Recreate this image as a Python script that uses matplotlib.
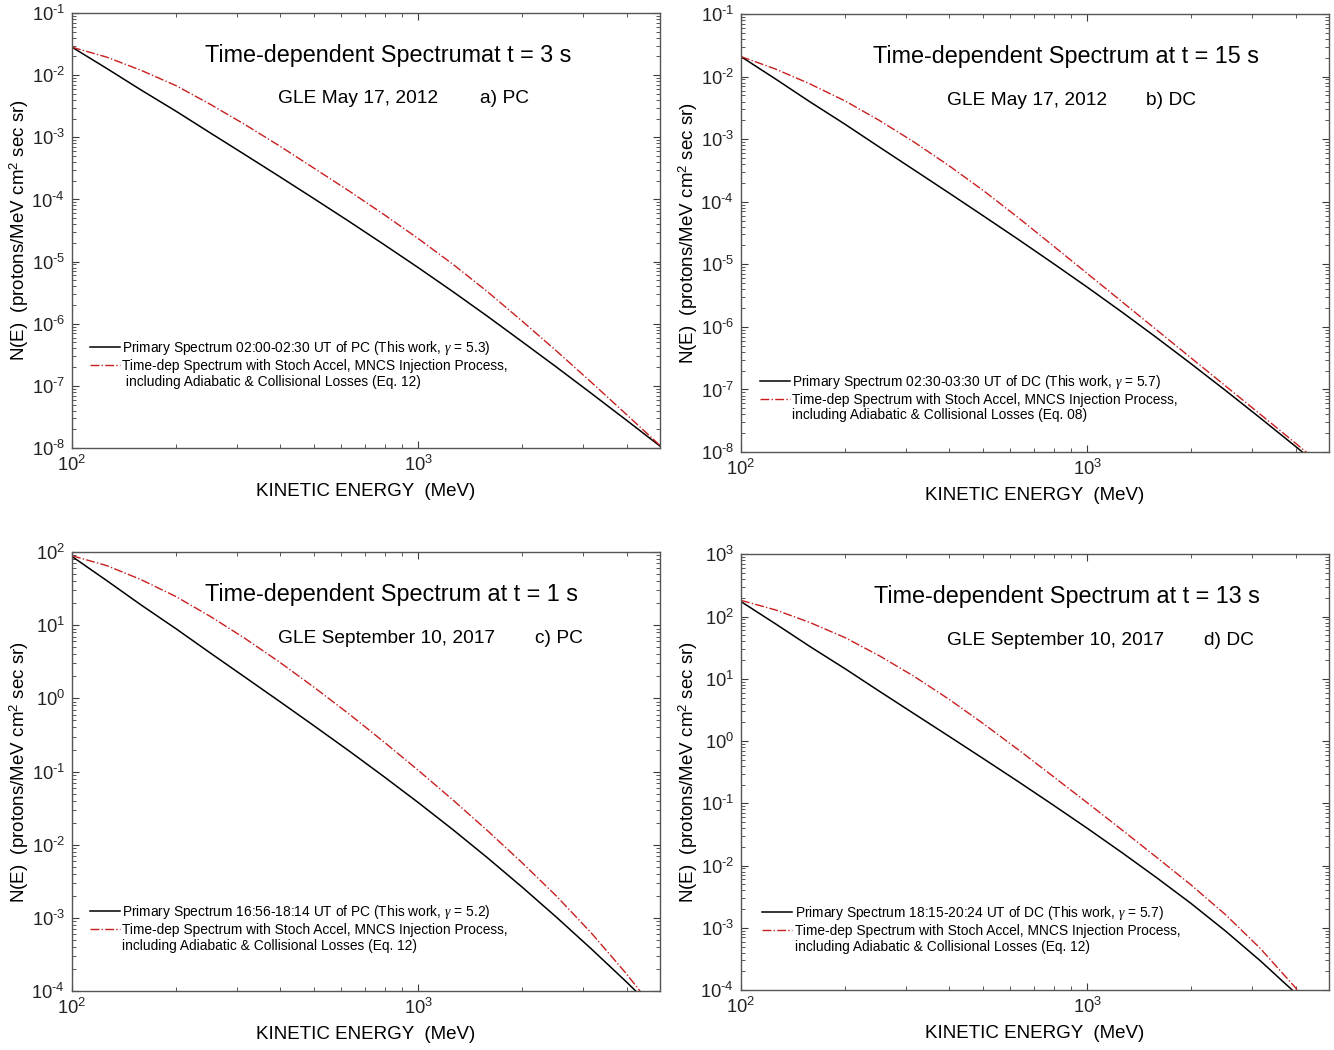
import numpy as np
import matplotlib
matplotlib.use("Agg")
import matplotlib.pyplot as plt
from matplotlib.lines import Line2D
from matplotlib.ticker import LogLocator, NullFormatter, FuncFormatter

plt.rcParams['font.family'] = ['Liberation Sans', 'DejaVu Sans']
plt.rcParams['mathtext.fontset'] = 'custom'
plt.rcParams['mathtext.rm'] = 'Liberation Sans'
plt.rcParams['mathtext.it'] = 'Liberation Serif:italic'
plt.rcParams['mathtext.bf'] = 'Liberation Sans:bold'

# kinetic energy grid (MeV) at which the curves were read
energy = [100, 126, 158, 200, 251, 316, 398, 501, 631, 794, 1000, 1259, 1585, 1995, 2512, 3162, 3981, 5012]

# log10 N(E)
black_a = [-1.55, -1.892, -2.236, -2.582, -2.930, -3.280, -3.633, -3.990, -4.352, -4.720,
           -5.096, -5.482, -5.879, -6.287, -6.699, -7.119, -7.544, -7.974]
red_a = [-1.55, -1.710, -1.920, -2.170, -2.470, -2.795, -3.140, -3.500, -3.862, -4.237,
         -4.629, -5.041, -5.483, -5.955, -6.440, -6.940, -7.450, -7.965]

black_b = [-1.68, -2.040, -2.401, -2.763, -3.126, -3.490, -3.856, -4.225, -4.598, -4.977,
           -5.364, -5.761, -6.169, -6.588, -7.017, -7.455, -7.901, -8.354]
red_b = [-1.68, -1.880, -2.115, -2.390, -2.700, -3.045, -3.420, -3.820, -4.250, -4.695,
         -5.145, -5.595, -6.045, -6.495, -6.945, -7.395, -7.850, -8.310]

black_c = [1.94, 1.610, 1.280, 0.950, 0.620, 0.290, -0.042, -0.377, -0.717, -1.065,
           -1.423, -1.793, -2.178, -2.578, -2.993, -3.423, -3.868, -4.328]
red_c = [1.95, 1.815, 1.625, 1.390, 1.120, 0.820, 0.495, 0.150, -0.212, -0.590,
         -0.982, -1.387, -1.807, -2.245, -2.705, -3.205, -3.755, -4.355]

black_d = [2.24, 1.880, 1.520, 1.160, 0.800, 0.440, 0.080, -0.282, -0.648, -1.020,
           -1.400, -1.790, -2.192, -2.608, -3.053, -3.528, -4.038, -4.578]
red_d = [2.26, 2.105, 1.905, 1.660, 1.370, 1.040, 0.675, 0.280, -0.135, -0.560,
         -0.990, -1.425, -1.865, -2.310, -2.790, -3.330, -3.950, -4.650]

titles = ['Time-dependent Spectrumat t = 3 s', 'Time-dependent Spectrum at t = 15 s',
          'Time-dependent Spectrum at t = 1 s', 'Time-dependent Spectrum at t = 13 s']
events = ['GLE May 17, 2012', 'GLE May 17, 2012', 'GLE September 10, 2017', 'GLE September 10, 2017']
tags = ['a) PC', 'b) DC', 'c) PC', 'd) DC']
primary_labels = ['Primary Spectrum 02:00-02:30 UT of PC (This work, $\\gamma$ = 5.3)',
                  'Primary Spectrum 02:30-03:30 UT of DC (This work, $\\gamma$ = 5.7)',
                  'Primary Spectrum 16:56-18:14 UT of PC (This work, $\\gamma$ = 5.2)',
                  'Primary Spectrum 18:15-20:24 UT of DC (This work, $\\gamma$ = 5.7)']
timedep_label = 'Time-dep Spectrum with Stoch Accel, MNCS Injection Process,'
losses_labels = [' including Adiabatic & Collisional Losses (Eq. 12)',
                 'including Adiabatic & Collisional Losses (Eq. 08)',
                 'including Adiabatic & Collisional Losses (Eq. 12)',
                 'including Adiabatic & Collisional Losses (Eq. 12)']
y_decades = [(-8, -1), (-8, -1), (-4, 2), (-4, 3)]
x_decades = (2, 3)

blacks = [black_a, black_b, black_c, black_d]
reds = [red_a, red_b, red_c, red_d]

# layout (figure fractions) and text placement per panel
positions = [[0.054, 0.5733, 0.4408, 0.4143], [0.5555, 0.5695, 0.4408, 0.4171],
             [0.054, 0.0562, 0.4408, 0.418], [0.5555, 0.0571, 0.4408, 0.415]]
title_x = [0.537, 0.553, 0.543, 0.555]
tag_x = [0.694, 0.689, 0.787, 0.787]
leg_y = [0.250, 0.180, 0.200, 0.197]
leg_x = [0.03, 0.032, 0.03, 0.036]


def pow10(v, pos):
    k = int(round(np.log10(v)))
    if k < 0:
        return '$\\mathdefault{10^{\\text{-}%d}}$' % (-k)
    return '$\\mathdefault{10^{%d}}$' % k


fig = plt.figure(figsize=(13.34, 10.5), dpi=100)
axis_col = '#3a3a3a'

for i in range(4):
    ax = fig.add_axes(positions[i])
    x = np.array(energy)
    l1, = ax.plot(x, 10 ** np.array(blacks[i]), color='black', lw=1.1)
    l2, = ax.plot(x, 10 ** np.array(reds[i]), color='#c81e1e', lw=1.0, ls='-.')
    ax.set_xscale('log')
    ax.set_yscale('log')
    ylo, yhi = y_decades[i]
    ax.set_xlim(100, 5000)
    ax.set_ylim(10.0 ** ylo, 10.0 ** yhi)
    ax.set_xticks([10.0 ** k for k in range(x_decades[0], x_decades[1] + 1)])
    ax.set_yticks([10.0 ** k for k in range(ylo, yhi + 1)])
    ax.xaxis.set_major_formatter(FuncFormatter(pow10))
    ax.yaxis.set_major_formatter(FuncFormatter(pow10))
    ax.xaxis.set_minor_locator(LogLocator(base=10, subs=np.arange(2, 10), numticks=20))
    ax.yaxis.set_minor_locator(LogLocator(base=10, subs=np.arange(2, 10), numticks=20))
    ax.xaxis.set_minor_formatter(NullFormatter())
    ax.yaxis.set_minor_formatter(NullFormatter())
    ax.tick_params(which='both', direction='in', top=True, right=True, colors=axis_col,
                   labelcolor='#222222', labelsize=13.2)
    ax.tick_params(which='major', length=5, width=0.8, pad=5)
    ax.tick_params(which='minor', length=3, width=0.6)
    for s in ax.spines.values():
        s.set_color('#555555')
        s.set_linewidth(1.0)
    ax.set_xlabel('KINETIC ENERGY  (MeV)', fontsize=13.5, labelpad=6)
    ax.set_ylabel('N(E)  (protons/MeV cm$^2$ sec sr)', fontsize=13.5, labelpad=0.5)

    ax.text(title_x[i], 0.903, titles[i], transform=ax.transAxes, fontsize=16.8,
            ha='center', va='center')
    ax.text(0.35, 0.803, events[i], transform=ax.transAxes, fontsize=13.8, ha='left', va='center')
    ax.text(tag_x[i], 0.803, tags[i], transform=ax.transAxes, fontsize=13.8, ha='left', va='center')

    blank = Line2D([], [], color='none')
    ax.legend([l1, l2, blank], [primary_labels[i], timedep_label, losses_labels[i]],
              loc='upper left', bbox_to_anchor=(leg_x[i], leg_y[i]), frameon=False,
              fontsize=9.9, handlelength=2.2, handletextpad=0.15, labelspacing=0.12,
              borderpad=0, borderaxespad=0)

fig.savefig('out.png', dpi=100)
